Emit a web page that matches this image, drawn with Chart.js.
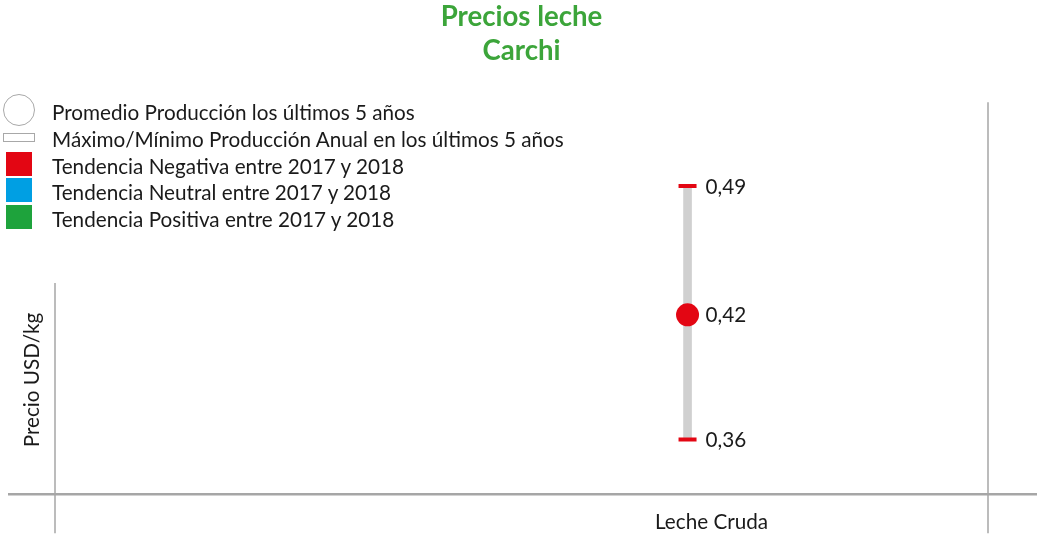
<!DOCTYPE html>
<html>
<head>
<meta charset="utf-8">
<script src="https://cdn.jsdelivr.net/npm/chart.js@4/dist/chart.umd.min.js"></script>
<style>
  body { margin: 0; background: #fff; font-family: Lato, sans-serif; }
  #wrap { position: relative; width: 1039px; height: 536px; }
  #legend { position: absolute; left: 0; top: 99px; font-size: 20.7px; color: #1a1a1a; }
  .row { display: flex; align-items: center; height: 26.7px; }
  .icon { width: 52px; position: relative; height: 26px; }
  .icon span { position: absolute; box-sizing: border-box; }
</style>
</head>
<body>
<div id="wrap">
  <canvas id="chart" width="1039" height="536"></canvas>
  <div id="legend"></div>
</div>
<script>
// datos
const categories = ["Leche Cruda"];
const maxValues = [0.49];
const minValues = [0.36];
const avgValues = [0.424];
const trendColors = ["#e30613"];

const legendLabels = [
  "Promedio Producción los últimos 5 años",
  "Máximo/Mínimo Producción Anual en los últimos 5 años",
  "Tendencia Negativa entre 2017 y 2018",
  "Tendencia Neutral entre 2017 y 2018",
  "Tendencia Positiva entre 2017 y 2018"
];
const legendColors = [null, null, "#e30613", "#009fe3", "#1ea33c"];

const fmt = v => v.toFixed(2).replace(".", ",");
const FONT = 20.7;

// leyenda en HTML
const legend = document.getElementById("legend");
legendLabels.forEach((txt, i) => {
  const row = document.createElement("div");
  row.className = "row";
  const icon = document.createElement("div");
  icon.className = "icon";
  const s = document.createElement("span");
  if (i === 0) {
    s.style.cssText = "left:3px;top:-5px;width:32px;height:32px;border:1.5px solid #a8a8a8;border-radius:50%";
  } else if (i === 1) {
    s.style.cssText = "left:3px;top:7px;width:32px;height:9px;border:1.5px solid #a8a8a8";
  } else {
    s.style.cssText = "left:6px;top:-1px;width:26px;height:24px;background:" + legendColors[i];
  }
  icon.appendChild(s);
  row.appendChild(icon);
  const t = document.createElement("span");
  t.textContent = txt;
  row.appendChild(t);
  legend.appendChild(row);
});

// lineas del marco
const framePlugin = {
  id: "frame",
  beforeDatasetsDraw(chart) {
    const { ctx, chartArea: a, width } = chart;
    ctx.save();
    ctx.strokeStyle = "#a6a6a6";
    ctx.lineWidth = 2.5;
    ctx.beginPath();
    ctx.moveTo(8, a.bottom);
    ctx.lineTo(width - 2, a.bottom);
    ctx.stroke();
    ctx.lineWidth = 1.5;
    ctx.beginPath();
    ctx.moveTo(a.left, 283);
    ctx.lineTo(a.left, a.bottom + 39);
    ctx.moveTo(a.right, a.top);
    ctx.lineTo(a.right, a.bottom + 39);
    ctx.stroke();
    // titulo eje y
    ctx.translate(a.left - 23, 380);
    ctx.rotate(-Math.PI / 2);
    ctx.fillStyle = "#1a1a1a";
    ctx.font = FONT + "px Lato";
    ctx.textAlign = "center";
    ctx.textBaseline = "middle";
    ctx.fillText("Precio USD/kg", 0, 0);
    ctx.restore();
  }
};

// etiquetas de valores
const valueLabels = {
  id: "valueLabels",
  afterDatasetsDraw(chart) {
    const { ctx } = chart;
    ctx.save();
    ctx.fillStyle = "#1a1a1a";
    ctx.font = FONT + "px Lato";
    ctx.textBaseline = "middle";
    [1, 2].forEach(di => {
      const ds = chart.data.datasets[di];
      chart.getDatasetMeta(di).data.forEach((el, i) => {
        ctx.fillText(fmt(ds.data[i].y), el.x + 18, el.y + 1);
      });
    });
    ctx.restore();
  }
};

const idx = categories.map((c, i) => i);

new Chart(document.getElementById("chart"), {
  type: "bar",
  data: {
    datasets: [
      {
        label: "Rango",
        xAxisID: "x",
        data: idx.map(i => ({ x: i, y: [minValues[i], maxValues[i]] })),
        backgroundColor: "#d0d0d0",
        barThickness: 8,
        order: 3
      },
      {
        type: "scatter",
        label: "Max/Min",
        xAxisID: "x",
        data: idx.flatMap(i => [{ x: i, y: maxValues[i] }, { x: i, y: minValues[i] }]),
        pointStyle: "line",
        pointRadius: 9,
        pointBorderWidth: 4,
        borderColor: idx.flatMap(i => [trendColors[i], trendColors[i]]),
        order: 2
      },
      {
        type: "scatter",
        label: "Promedio",
        xAxisID: "x",
        data: idx.map(i => ({ x: i, y: avgValues[i] })),
        pointStyle: "circle",
        pointRadius: 11.5,
        backgroundColor: trendColors,
        borderWidth: 0,
        order: 1
      }
    ]
  },
  options: {
    responsive: false,
    animation: false,
    events: [],
    layout: { padding: { left: 55, right: 51, top: 0, bottom: -15 } },
    plugins: {
      legend: { display: false },
      tooltip: { enabled: false },
      title: {
        display: true,
        text: ["Precios leche", "Carchi"],
        color: "#3ca53a",
        font: { family: "Lato", size: 27.6, weight: "bold", lineHeight: 1.2 },
        padding: { top: 1, bottom: 35 }
      }
    },
    scales: {
      x: {
        type: "linear",
        offset: false,
        min: -2,
        max: 0.95,
        afterBuildTicks: s => { s.ticks = idx.map(i => ({ value: i })); },
        ticks: {
          callback: v => categories[v],
          labelOffset: 24,
          padding: 16,
          color: "#1a1a1a",
          font: { family: "Lato", size: FONT }
        },
        grid: { display: false, drawTicks: false },
        border: { display: false }
      },
      y: {
        display: false,
        min: 0.332,
        max: 0.533
      }
    }
  },
  plugins: [framePlugin, valueLabels]
});
</script>
</body>
</html>
